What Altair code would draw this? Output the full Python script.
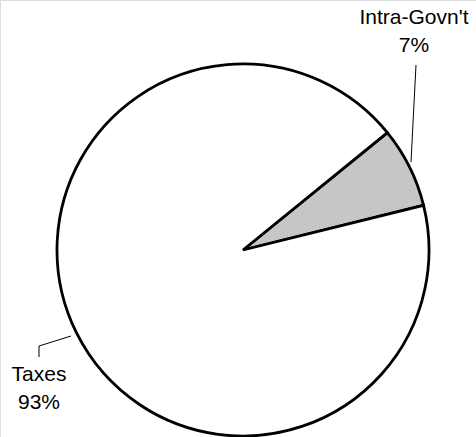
import altair as alt
import pandas as pd
import math

categories = ["Intra-Govn't", "Taxes"]
shares = [7, 93]
pct_labels = ["7%", "93%"]
fills = ["#c6c6c6", "#ffffff"]

df = pd.DataFrame({"category": categories, "share": shares, "order": [0, 1]})

start = math.radians(50.9)
theta_scale = alt.Scale(domain=[0, sum(shares)], range=[start, start + 2 * math.pi])

pie = alt.Chart(df).mark_arc(
    x=243, y=250, outerRadius=186, stroke="black", strokeWidth=2.8, strokeJoin="miter"
).encode(
    theta=alt.Theta("share:Q", stack=True, scale=theta_scale),
    order=alt.Order("order:Q"),
    color=alt.Color("category:N", scale=alt.Scale(domain=categories, range=fills), legend=None),
)

font = "Liberation Sans"

def label(name, pct, x, y):
    d = pd.DataFrame({"t": [name]})
    a = alt.Chart(d).mark_text(x=x, y=y, fontSize=21, font=font, color="black",
                               align="center", baseline="middle").encode(text="t:N")
    d2 = pd.DataFrame({"t": [pct]})
    b = alt.Chart(d2).mark_text(x=x, y=y + 28, fontSize=21, font=font, color="black",
                                align="center", baseline="middle").encode(text="t:N")
    return a + b

lab1 = label(categories[0], pct_labels[0], 414, 18)
lab2 = label(categories[1], pct_labels[1], 39, 375)

one = pd.DataFrame({"k": [0]})
def seg(x1, y1, x2, y2):
    return alt.Chart(one).mark_rule(color="black", strokeWidth=1).encode(
        x=alt.value(x1), y=alt.value(y1), x2=alt.value(x2), y2=alt.value(y2))

leaders = seg(416, 65, 411, 162) + seg(39, 357, 39, 346) + seg(39, 346, 71, 336)

chart = alt.layer(pie, leaders, lab1, lab2).properties(
    width=476, height=437, padding=0, autosize=alt.AutoSizeParams(type="none")
).configure_view(stroke=None).configure(background="white")

chart.save("out.html", embed_options={"renderer": "svg", "actions": False})
